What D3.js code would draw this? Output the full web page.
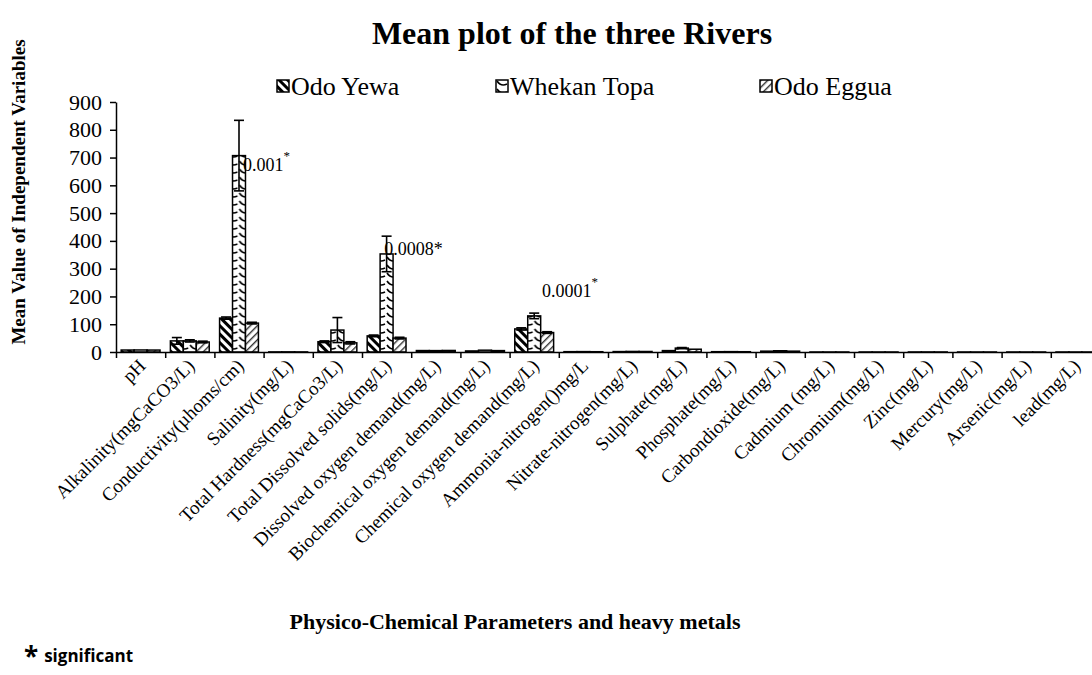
<!DOCTYPE html>
<html lang="en">
<head>
<meta charset="UTF-8" />
<script src="https://d3js.org/d3.v7.min.js"></script>
<title>Mean plot of the three Rivers</title>
<style>
  body { margin: 0; background: #fff; }
  svg text { font-family: "Liberation Serif", "Times New Roman", serif !important; fill: #000; }
  svg text.sans, svg text.sans tspan { font-family: "Open Sans", "Liberation Sans", sans-serif !important; }
  .axis path, .axis line { stroke: #000; stroke-width: 1.5; }
</style>
</head>
<body>
<script>
// categories on the x axis
const categories = ["pH", "Alkalinity(mgCaCO3/L)", "Conductivity(\u00b5homs/cm)", "Salinity(mg/L)",
  "Total Hardness(mgCaCo3/L)", "Total Dissolved solids(mg/L)", "Dissolved oxygen demand(mg/L)",
  "Biochemical oxygen demand(mg/L)", "Chemical oxygen demand(mg/L)", "Ammonia-nitrogen()mg/L",
  "Nitrate-nitrogen(mg/L)", "Sulphate(mg/L)", "Phosphate(mg/L)", "Carbondioxide(mg/L)",
  "Cadmium (mg/L)", "Chromium(mg/L)", "Zinc(mg/L)", "Mercury(mg/L)", "Arsenic(mg/L)", "lead(mg/L)"];

const seriesNames = ["Odo Yewa", "Whekan Topa", "Odo Eggua"];

// mean values
const odoYewa    = [7.1, 40, 122, 0.3, 37, 58, 5.2, 3.8, 83, 1.2, 1.5, 5, 1.1, 3, 0.02, 0.05, 0.1, 0.01, 0.01, 0.02];
const whekanTopa = [7.3, 40, 707, 0.5, 79, 353, 5, 6.5, 130, 1.4, 2, 14, 1.3, 4.5, 0.02, 0.05, 0.2, 0.01, 0.01, 0.03];
const odoEggua   = [7.0, 36, 104, 0.3, 33, 50, 5.5, 5, 70, 1, 1.8, 10, 1, 3, 0.02, 0.04, 0.1, 0.01, 0.01, 0.02];

// error bar half-lengths
const odoYewaErr    = [0, 12, 4, 0, 3, 3, 0, 0, 4, 0, 0, 0, 0, 0, 0, 0, 0, 0, 0, 0];
const whekanTopaErr = [0, 4, 127, 0, 45, 64, 0, 0, 10, 0, 0, 2, 0, 0, 0, 0, 0, 0, 0, 0];
const odoEgguaErr   = [0, 3, 3, 0, 4, 3, 0, 0, 3, 0, 0, 0, 0, 0, 0, 0, 0, 0, 0, 0];

const yTicks = [0, 100, 200, 300, 400, 500, 600, 700, 800, 900];

// p-value notes: category index, place inside the band, height in axis units
const notes = [
  { cat: 2, pos: 0.58, at: 650, text: "0.001", sup: true },
  { cat: 5, pos: 0.45, at: 350, text: "0.0008", sup: false },
  { cat: 8, pos: 0.66, at: 198, text: "0.0001", sup: true }
];

const values = [odoYewa, whekanTopa, odoEggua];
const errs = [odoYewaErr, whekanTopaErr, odoEgguaErr];

const W = 1092, H = 675;
const svg = d3.select("body").append("svg").attr("width", W).attr("height", H);

// patterns
const defs = svg.append("defs");
const p1 = defs.append("pattern").attr("id", "pat0").attr("patternUnits", "userSpaceOnUse")
  .attr("width", 6).attr("height", 6).attr("patternTransform", "rotate(-45)");
p1.append("rect").attr("width", 6).attr("height", 6).attr("fill", "#fff");
p1.append("rect").attr("width", 3).attr("height", 6).attr("fill", "#000");

const p2 = defs.append("pattern").attr("id", "pat1").attr("patternUnits", "userSpaceOnUse")
  .attr("width", 12).attr("height", 8);
p2.append("rect").attr("width", 12).attr("height", 8).attr("fill", "#fff");
p2.append("path").attr("d", "M1,1 Q5,7 11,4").attr("fill", "none").attr("stroke", "#000").attr("stroke-width", 1.6);

const p3 = defs.append("pattern").attr("id", "pat2").attr("patternUnits", "userSpaceOnUse")
  .attr("width", 5).attr("height", 5).attr("patternTransform", "rotate(45)");
p3.append("rect").attr("width", 5).attr("height", 5).attr("fill", "#fff");
p3.append("rect").attr("width", 1.4).attr("height", 5).attr("fill", "#333");

// scales
const x0 = d3.scaleBand().domain(categories).range([116, 1100]).padding(0);
const x1 = d3.scaleBand().domain(seriesNames).range([0, x0.bandwidth()]).paddingOuter(0.4).paddingInner(0);
const y = d3.scaleLinear().domain([0, 900]).range([352, 102]);
const xTick = d3.scaleLinear().domain([0, categories.length]).range([116, 1100]);

// title
svg.append("text").attr("x", 572).attr("y", 44).attr("text-anchor", "middle")
  .attr("font-size", 32).attr("font-weight", "bold").text("Mean plot of the three Rivers");

// legend
const legendX = [277, 496, 760];
const lg = svg.append("g").selectAll("g").data(seriesNames).join("g")
  .attr("transform", (d, i) => `translate(${legendX[i]},80)`);
lg.append("rect").attr("width", 12).attr("height", 12)
  .attr("fill", (d, i) => `url(#pat${i})`).attr("stroke", "#000").attr("stroke-width", 1.5);
lg.append("text").attr("x", 14).attr("y", 15).attr("font-size", 26).text(d => d);

// bars
const groups = svg.append("g").selectAll("g").data(categories).join("g")
  .attr("transform", d => `translate(${x0(d)},0)`);

groups.selectAll("rect").data((d, ci) => seriesNames.map((s, si) => ({ s, si, v: values[si][ci] })))
  .join("rect")
  .attr("x", d => x1(d.s))
  .attr("width", x1.bandwidth())
  .attr("y", d => y(d.v))
  .attr("height", d => y(0) - y(d.v))
  .attr("fill", d => `url(#pat${d.si})`)
  .attr("stroke", "#000").attr("stroke-width", 1.5);

// error bars
const eb = groups.selectAll("g.err")
  .data((d, ci) => seriesNames.map((s, si) => ({ s, v: values[si][ci], e: errs[si][ci] })).filter(d => d.e > 0))
  .join("g").attr("class", "err")
  .attr("transform", d => `translate(${x1(d.s) + x1.bandwidth() / 2},0)`);
eb.append("line").attr("y1", d => y(d.v - d.e)).attr("y2", d => y(d.v + d.e))
  .attr("stroke", "#000").attr("stroke-width", 1.6);
eb.append("line").attr("x1", -5).attr("x2", 5).attr("y1", d => y(d.v + d.e)).attr("y2", d => y(d.v + d.e))
  .attr("stroke", "#000").attr("stroke-width", 1.6);
eb.append("line").attr("x1", -5).attr("x2", 5).attr("y1", d => y(d.v - d.e)).attr("y2", d => y(d.v - d.e))
  .attr("stroke", "#000").attr("stroke-width", 1.6);

// y axis
const gY = svg.append("g").attr("class", "axis").attr("transform", "translate(116,0)");
gY.call(d3.axisLeft(y).tickValues(yTicks).tickSize(6).tickSizeOuter(0).tickPadding(8));
gY.selectAll("text").attr("font-size", 22);

// x axis (ticks on band edges)
const gX = svg.append("g").attr("class", "axis").attr("transform", "translate(0,352)");
gX.call(d3.axisBottom(xTick).tickValues(d3.range(categories.length + 1)).tickFormat("").tickSize(6).tickSizeOuter(0));

// category labels
svg.append("g").selectAll("text").data(categories).join("text")
  .attr("transform", d => `translate(${x0(d) + x0.bandwidth() / 2 + 6},367) rotate(-45)`)
  .attr("text-anchor", "end").attr("font-size", 19).text(d => d);

// p-value notes
const nt = svg.append("g").selectAll("text").data(notes).join("text")
  .attr("x", d => x0(categories[d.cat]) + d.pos * x0.bandwidth())
  .attr("y", d => y(d.at))
  .attr("font-size", 18);
nt.append("tspan").text(d => d.text);
nt.append("tspan").attr("font-size", d => d.sup ? 13 : 18).attr("dy", d => d.sup ? -11 : 0).text("*");

// axis titles
svg.append("text").attr("transform", "translate(25,192) rotate(-90)").attr("text-anchor", "middle")
  .attr("font-size", 19).attr("font-weight", "bold").text("Mean Value of Independent Variables");
svg.append("text").attr("x", 515).attr("y", 629).attr("text-anchor", "middle")
  .attr("font-size", 22).attr("font-weight", "bold").text("Physico-Chemical Parameters and heavy metals");

// footnote
const fn = svg.append("text").attr("class", "sans").attr("x", 24).attr("y", 662).attr("font-weight", "bold");
fn.append("tspan").attr("font-size", 26).attr("dy", 4).text("*");
fn.append("tspan").attr("font-size", 17).attr("dx", 6).attr("dy", -4).text("significant");
</script>
</body>
</html>
